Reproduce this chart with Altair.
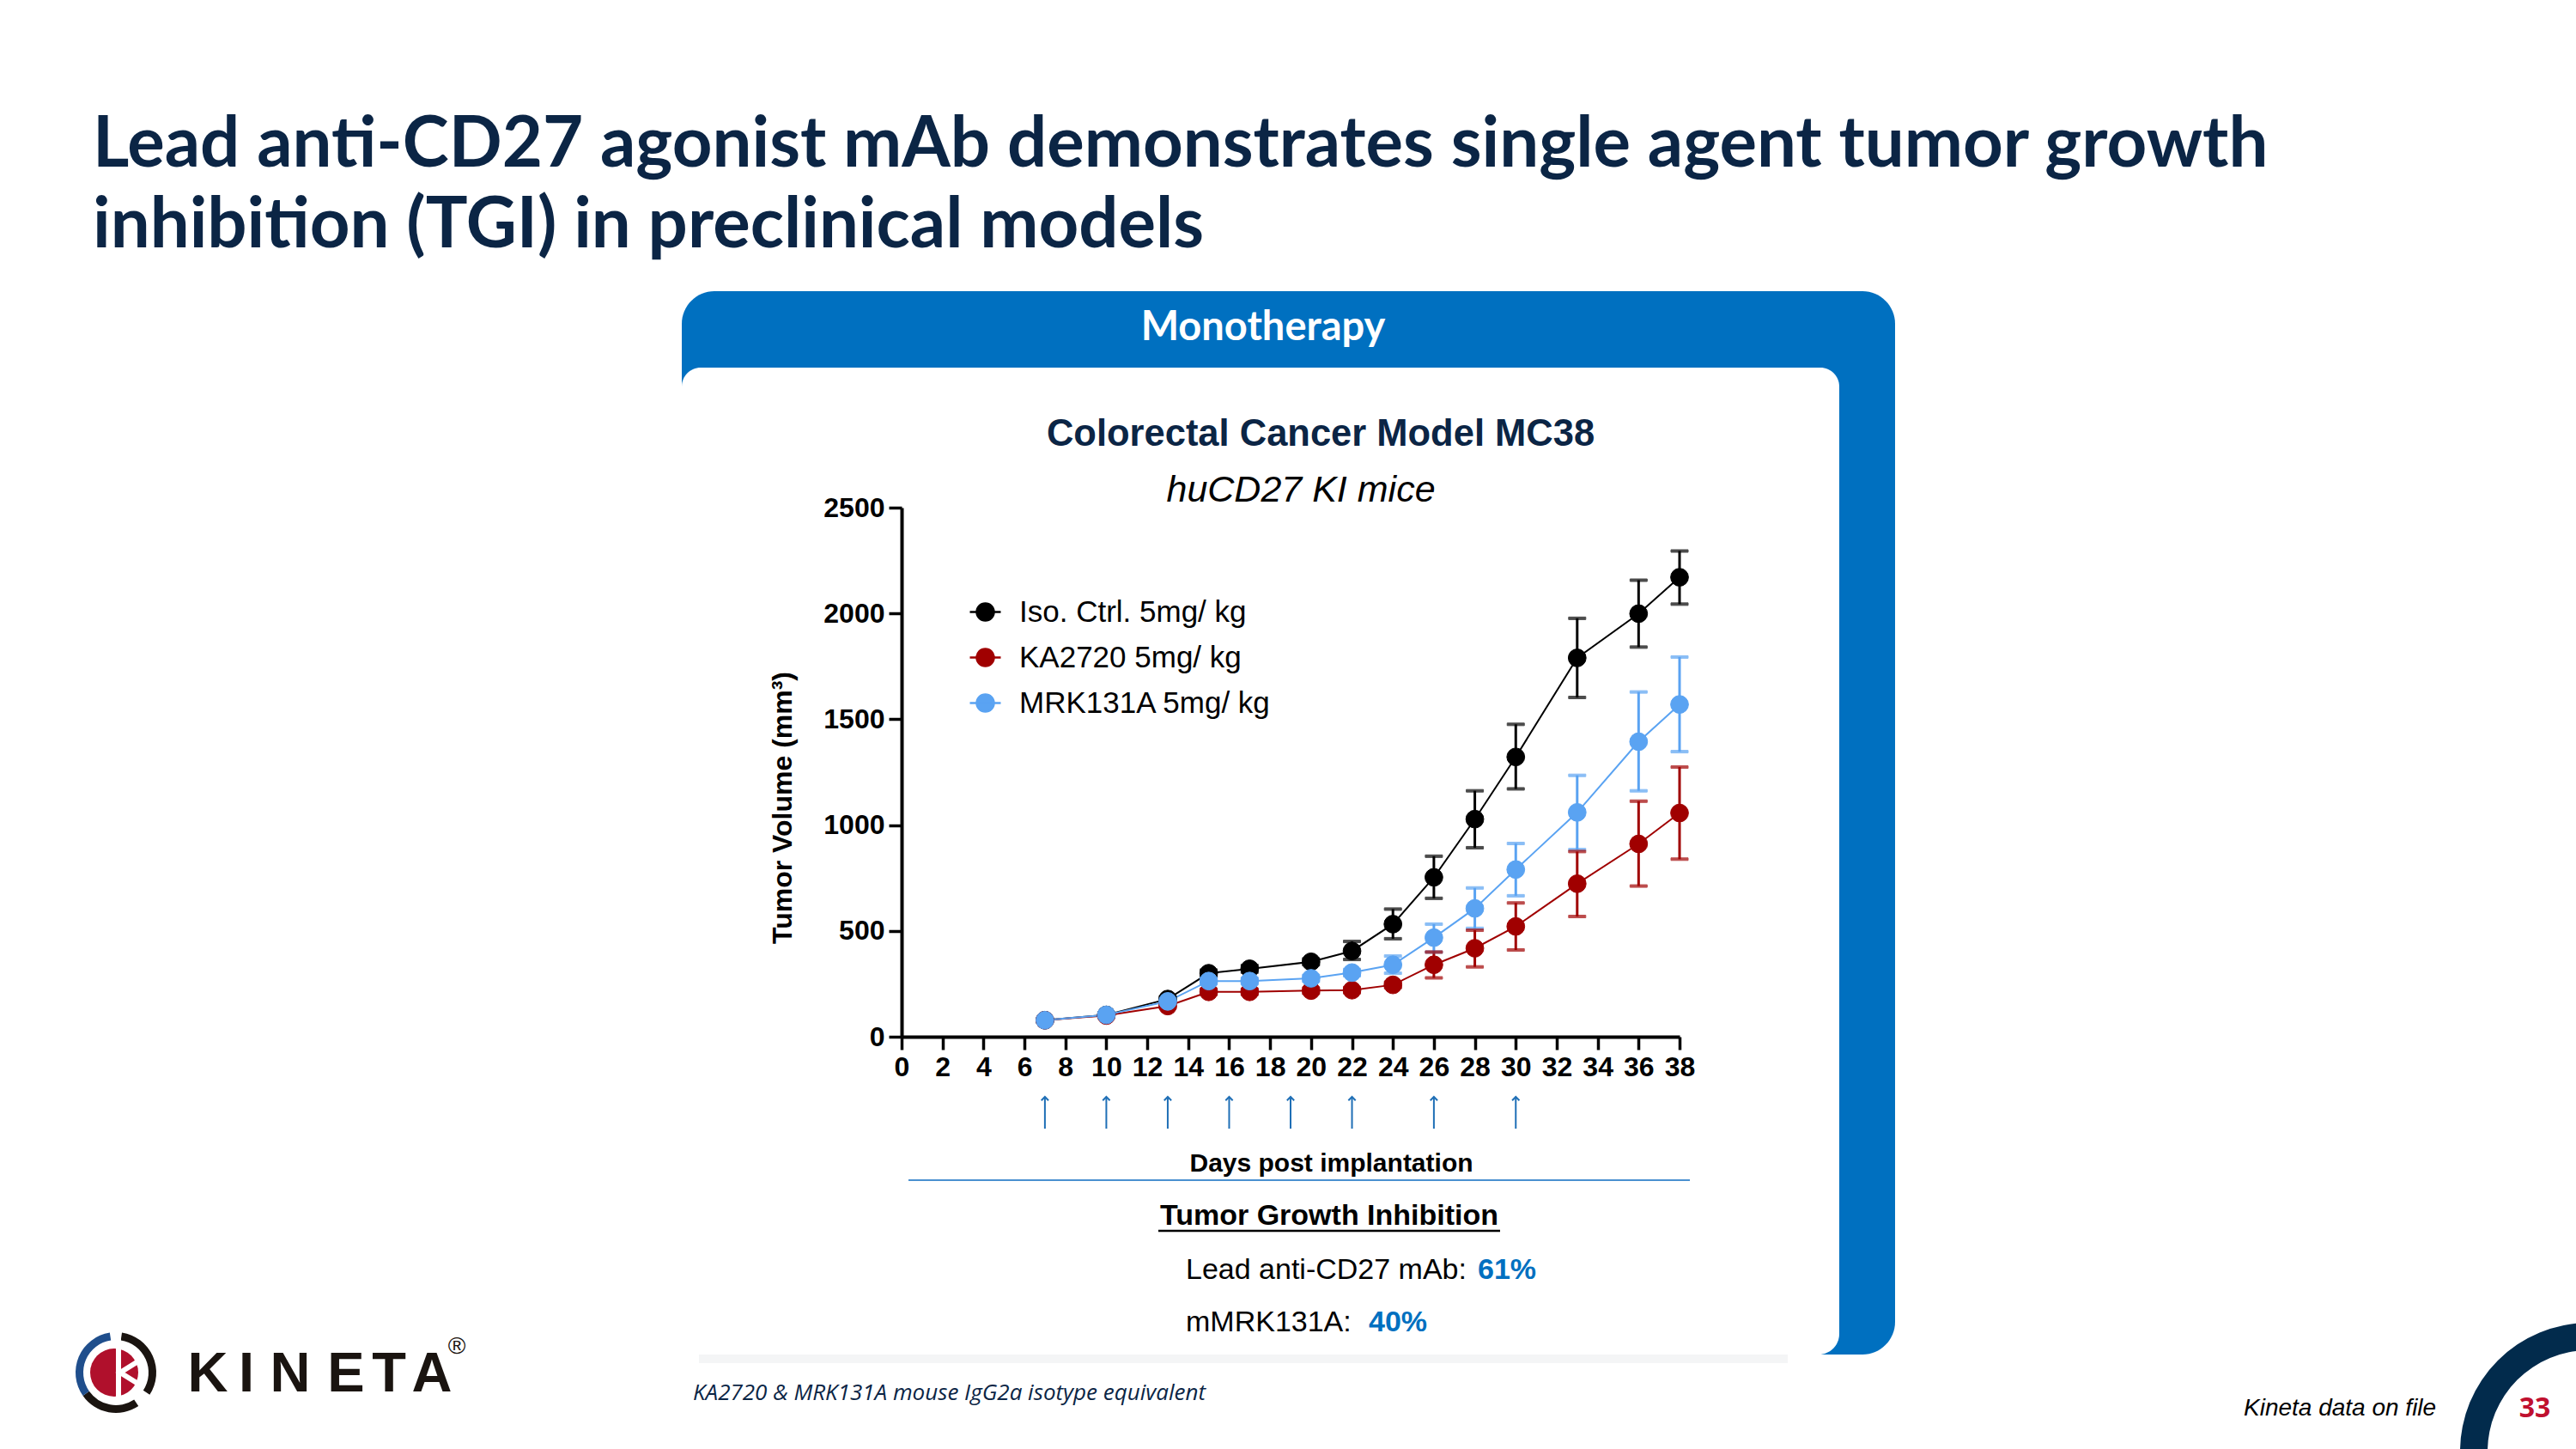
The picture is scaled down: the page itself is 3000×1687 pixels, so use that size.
import altair as alt
import pandas as pd

# ---------------- data ----------------
days = [7, 10, 13, 15, 17, 20, 22, 24, 26, 28, 30, 33, 36, 38]
series_names = ["Iso. Ctrl. 5mg/ kg", "KA2720 5mg/ kg", "MRK131A 5mg/ kg"]
series_colors = ["#000000", "#A00000", "#5AA3F2"]

iso_mean = [78, 103, 178, 300, 321, 354, 405, 532, 753, 1028, 1322, 1790, 1999, 2171]
iso_lo = [72, 96, 168, 285, 305, 340, 365, 463, 654, 893, 1171, 1603, 1841, 2044]
iso_hi = [84, 110, 188, 315, 337, 368, 450, 603, 853, 1162, 1476, 1977, 2157, 2295]

ka_mean = [78, 100, 145, 212, 212, 218, 220, 245, 340, 418, 521, 723, 911, 1057]
ka_lo = [75, 95, 138, 200, 200, 205, 208, 232, 278, 330, 410, 568, 712, 839]
ka_hi = [81, 105, 152, 225, 225, 230, 232, 258, 400, 503, 632, 875, 1113, 1274]

mrk_mean = [78, 103, 167, 263, 263, 276, 303, 340, 468, 606, 790, 1060, 1394, 1570]
mrk_lo = [75, 97, 155, 250, 250, 262, 288, 300, 400, 512, 666, 884, 1162, 1347]
mrk_hi = [81, 109, 180, 276, 276, 290, 318, 381, 532, 703, 913, 1235, 1629, 1794]

dose_days = [7, 10, 13, 16, 19, 22, 26, 30]
x_ticks = list(range(0, 39, 2))
y_ticks = [0, 500, 1000, 1500, 2000, 2500]

logo_letters = ["K", "I", "N", "E", "T", "A"]
logo_letter_x = [242, 287, 338, 403, 453, 503]

rows = []
for name, m, lo, hi in zip(series_names,
                           [iso_mean, ka_mean, mrk_mean],
                           [iso_lo, ka_lo, mrk_lo],
                           [iso_hi, ka_hi, mrk_hi]):
    for d, a, b, c in zip(days, m, lo, hi):
        rows.append({"series": name, "day": d, "mean": a, "lo": b, "hi": c})
df = pd.DataFrame(rows)
dose_df = pd.DataFrame({"day": dose_days})

# ---------------- layout ----------------
W, H = 906, 616
OX, OY = 1050, 591
NAVY = "#0B2545"
BLUE = "#0070C0"

xscale = alt.Scale(domain=[0, 38], nice=False, zero=False)
yscale = alt.Scale(domain=[0, 2500], nice=False)

LEG = alt.Legend(title=None, orient="none", legendX=80, legendY=104,
                 symbolType="M-1.8,0L1.8,0M1,0A1,1,0,1,1,-1,0A1,1,0,1,1,1,0",
                 symbolSize=400, symbolStrokeWidth=2.5, labelFontSize=35,
                 labelFont="Liberation Sans", labelColor="#000000",
                 rowPadding=17, labelOffset=22, symbolOpacity=1, labelLimit=0)
cscale = alt.Scale(domain=series_names, range=series_colors)

X = alt.X("day:Q", scale=xscale,
          axis=alt.Axis(values=x_ticks, title="Days post implantation",
                        titleX=500, titleY=147, titleBaseline="middle",
                        labelOverlap=False, labelFlush=False, format="d",
                        zindex=1))
Y = alt.Y("mean:Q", scale=yscale,
          axis=alt.Axis(values=y_ticks, title="Tumor Volume (mm³)",
                        titleX=-139, titleY=349, titleBaseline="middle",
                        labelOverlap=False, labelFlush=False, format="d",
                        titleFontSize=32, zindex=1))

base = alt.Chart(df)

line = base.mark_line(strokeWidth=2).encode(
    x=X, y=Y,
    stroke=alt.Stroke("series:N", scale=cscale, legend=LEG, sort=series_names),
    detail="series:N")

err = base.mark_rule(strokeWidth=3).encode(
    x=alt.X("day:Q", scale=xscale), y=alt.Y("lo:Q", scale=yscale), y2="hi:Q",
    stroke=alt.Stroke("series:N", scale=cscale, legend=LEG, sort=series_names))

cap_lo = base.mark_tick(orient="horizontal", size=20, thickness=3).encode(
    x=alt.X("day:Q", scale=xscale), y=alt.Y("lo:Q", scale=yscale),
    stroke=alt.Stroke("series:N", scale=cscale, legend=LEG, sort=series_names),
    fill=alt.Fill("series:N", scale=cscale, legend=LEG, sort=series_names))
cap_hi = base.mark_tick(orient="horizontal", size=20, thickness=3).encode(
    x=alt.X("day:Q", scale=xscale), y=alt.Y("hi:Q", scale=yscale),
    stroke=alt.Stroke("series:N", scale=cscale, legend=LEG, sort=series_names),
    fill=alt.Fill("series:N", scale=cscale, legend=LEG, sort=series_names))

pts = base.mark_point(filled=True, size=430, opacity=1, strokeWidth=1).encode(
    x=X, y=Y,
    fill=alt.Fill("series:N", scale=cscale, legend=LEG, sort=series_names),
    stroke=alt.Stroke("series:N", scale=cscale, legend=LEG, sort=series_names))

# dosing arrows
arrow_shaft = alt.Chart(dose_df).mark_rule(color="#1F6FB6", strokeWidth=2).encode(
    x=alt.X("day:Q", scale=xscale), y=alt.value(687), y2=alt.value(723))
arrow_head = alt.Chart(dose_df).mark_point(
    shape="M-1,1L0,0L1,1", filled=False, color="#1F6FB6", size=70,
    strokeWidth=2, opacity=1).encode(
    x=alt.X("day:Q", scale=xscale), y=alt.value(686))

one = pd.DataFrame({"k": [0]})


def rect(x, x2, y, y2, color, **kw):
    return alt.Chart(one).mark_rect(color=color, **kw).encode(
        x=alt.value(x), x2=alt.value(x2), y=alt.value(y), y2=alt.value(y2))


def txt(t, x, y, size, color="#000000", weight="normal", font="Liberation Sans",
        align="left", style="normal", baseline="middle", **kw):
    return alt.Chart(pd.DataFrame({"t": [t]})).mark_text(
        fontSize=size, color=color, fontWeight=weight, font=font, align=align,
        fontStyle=style, baseline=baseline, **kw).encode(
        x=alt.value(x), y=alt.value(y), text="t:N")


def R(x1, y1):
    return x1 - OX, y1 - OY


# panel
bx1, by1 = R(794, 339)
bx2, by2 = R(2207, 1577)
wx1, wy1 = R(794, 428)
wx2, wy2 = R(2142, 1577)
shadow = rect(wx1 + 20, wx2 - 60, wy2, wy2 + 10, "#F1F2F4", opacity=0.8)
panel = rect(bx1, bx2, by1, by2, BLUE, cornerRadius=38)
card = rect(wx1, wx2, wy1, wy2, "#FFFFFF", cornerRadiusTopLeft=22,
            cornerRadiusTopRight=22, cornerRadiusBottomRight=24,
            cornerRadiusBottomLeft=24)

texts = [
    txt("Lead anti-CD27 agonist mAb demonstrates single agent tumor growth",
        *R(108, 170), 81.5, NAVY, "bold", "Lato"),
    txt("inhibition (TGI) in preclinical models", *R(108, 264), 81.5, NAVY, "bold", "Lato"),
    txt("Monotherapy", *R(1471, 382), 47, "#FFFFFF", "bold", "Lato", "center"),
    txt("Colorectal Cancer Model MC38", *R(1538, 506), 43.5, NAVY, "bold",
        "Liberation Sans", "center"),
    txt("huCD27 KI mice", *R(1515, 571), 43, "#000000", "normal",
        "Liberation Sans", "center", "italic"),
    txt("Tumor Growth Inhibition", *R(1548, 1416), 34, "#000000", "bold",
        "Liberation Sans", "center"),
    txt("Lead anti-CD27 mAb:", *R(1381, 1479), 34),
    txt("61%", *R(1721, 1479), 34, BLUE, "bold"),
    txt("mMRK131A:", *R(1381, 1540), 34),
    txt("40%", *R(1594, 1540), 34, BLUE, "bold"),
    txt("KA2720 & MRK131A mouse IgG2a isotype equivalent", *R(807, 1622), 26,
        NAVY, "normal", "Open Sans", "left", "italic"),
    txt("Kineta data on file", *R(2613, 1640), 28, "#000000", "normal",
        "Liberation Sans", "left", "italic"),
    txt("33", *R(2952, 1640), 32, "#C0102F", "bold", "Open Sans", "center"),
    txt("®", *R(532, 1568), 28, "#1A1410", "normal", "Liberation Sans", "center"),
]
for letter, lx in zip(logo_letters, logo_letter_x):
    texts.append(txt(letter, *R(lx, 1600), 65, "#1A1410", "bold",
                     "Liberation Sans", "center"))

ux1, uy = R(1349, 1433)
ux2, _ = R(1747, 1433)
underline = alt.Chart(one).mark_rule(color="#000000", strokeWidth=2.5).encode(
    x=alt.value(ux1), x2=alt.value(ux2), y=alt.value(uy))
hx1, hy = R(1058, 1374)
hx2, _ = R(1968, 1374)
hline = alt.Chart(one).mark_rule(color="#4A90D0", strokeWidth=2).encode(
    x=alt.value(hx1), x2=alt.value(hx2), y=alt.value(hy))

# corner arc
acx, acy = R(3015, 1690)
corner = alt.Chart(one).mark_arc(radius=150, radius2=118, theta=4.712389,
                                 theta2=6.283185, color="#022B4C").encode(
    x=alt.value(acx), y=alt.value(acy))

# logo
lcx, lcy = R(135, 1598)
logo_black1 = alt.Chart(one).mark_arc(radius=47, radius2=38, theta=0.15,
                                      theta2=2.15, color="#1A1410").encode(
    x=alt.value(lcx), y=alt.value(lcy))
logo_black2 = alt.Chart(one).mark_arc(radius=47, radius2=38, theta=2.55,
                                      theta2=4.1, color="#1A1410").encode(
    x=alt.value(lcx), y=alt.value(lcy))
logo_blue = alt.Chart(one).mark_arc(radius=47, radius2=38, theta=4.1,
                                    theta2=6.13, color="#1F4E8C").encode(
    x=alt.value(lcx), y=alt.value(lcy))
logo_red = alt.Chart(one).mark_arc(radius=28, theta=0, theta2=6.2832,
                                   color="#B0102C").encode(
    x=alt.value(lcx - 2), y=alt.value(lcy))
logo_bar = alt.Chart(one).mark_rule(color="#FFFFFF", strokeWidth=6).encode(
    x=alt.value(lcx + 3), y=alt.value(lcy - 48), y2=alt.value(lcy + 30))
logo_chev = alt.Chart(one).mark_point(shape="M1,-1L-0.6,0L1,1", filled=False,
                                      color="#FFFFFF", size=900, strokeWidth=6,
                                      opacity=1).encode(
    x=alt.value(lcx + 14), y=alt.value(lcy))

chart = alt.layer(
    shadow, panel, card, corner,
    logo_black1, logo_black2, logo_blue, logo_red, logo_bar, logo_chev,
    *texts, underline, hline,
    arrow_shaft, arrow_head,
    line, err, cap_lo, cap_hi, pts,
).properties(
    width=W, height=H,
    autosize=alt.AutoSizeParams(type="none"),
    padding={"left": OX, "top": OY, "right": 3000 - OX - W, "bottom": 1687 - OY - H},
    background="#FFFFFF",
).configure_view(stroke=None).configure_axis(
    domainColor="#000000", domainWidth=4, tickColor="#000000", tickWidth=3.5,
    tickSize=15, labelFont="Liberation Sans", labelFontSize=32,
    labelFontWeight="bold", labelColor="#000000", labelPadding=5, grid=False,
    titleFont="Liberation Sans", titleFontSize=30, titleFontWeight="bold",
    titleColor="#000000",
).resolve_scale(stroke="shared", fill="shared")

chart.save("out.html", embed_options={"renderer": "svg", "actions": False})
